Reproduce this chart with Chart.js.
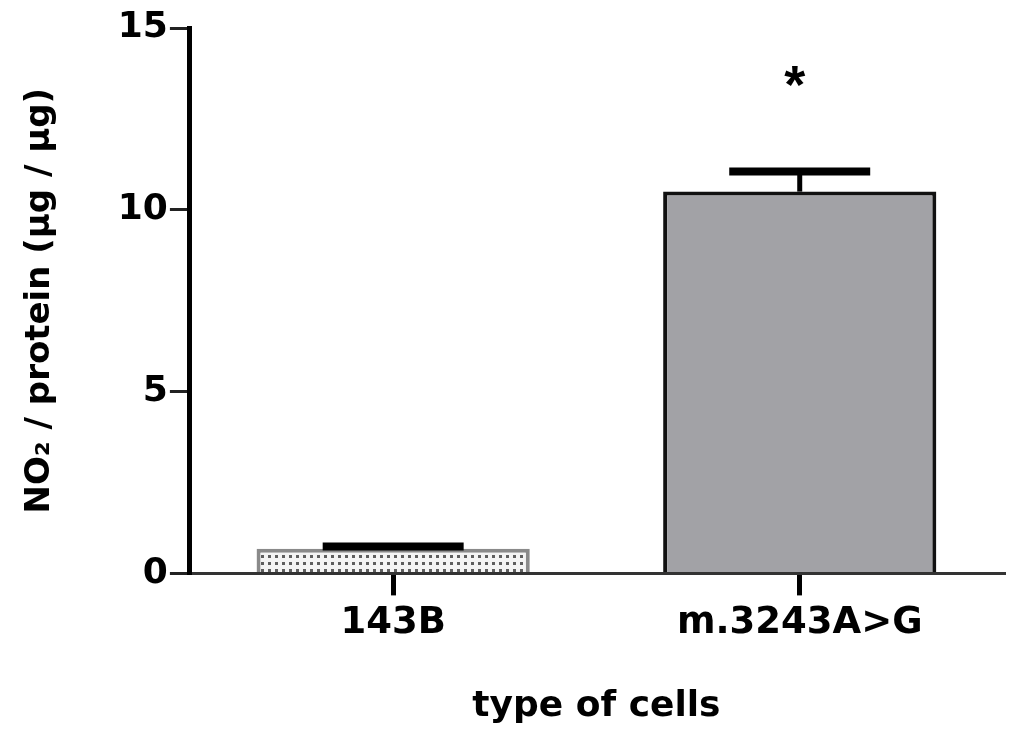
<!DOCTYPE html>
<html>
<head>
<meta charset="utf-8">
<script src="https://cdn.jsdelivr.net/npm/chart.js@4.4.0/dist/chart.umd.min.js"></script>
<style>
  html, body { margin: 0; padding: 0; background: #ffffff; }
  #wrap { width: 1024px; height: 748px; position: relative; }
</style>
</head>
<body>
<div id="wrap"><canvas id="c" width="1024" height="748"></canvas></div>
<script>
const categories = ["143B", "m.3243A>G"];
const values = [0.68, 10.5];
const errors = [0.06, 0.55];
const significance = ["", "*"];
const yTicks = [0, 5, 10, 15];

function dotPattern() {
  const p = document.createElement('canvas');
  p.width = 7; p.height = 7;
  const g = p.getContext('2d');
  g.fillStyle = '#f4f4f4';
  g.fillRect(0, 0, 7, 7);
  g.fillStyle = '#5e5e5e';
  g.fillRect(2, 2, 3, 3);
  return document.getElementById('c').getContext('2d').createPattern(p, 'repeat');
}

const errorBarPlugin = {
  id: 'errorBars',
  afterDatasetsDraw(chart) {
    const ctx = chart.ctx;
    const meta = chart.getDatasetMeta(0);
    const yScale = chart.scales.y;
    meta.data.forEach((bar, i) => {
      const top = yScale.getPixelForValue(values[i] + errors[i]);
      const barTop = bar.y;
      const half = bar.width * 0.258;
      ctx.save();
      ctx.strokeStyle = '#000';
      ctx.lineWidth = 5;
      ctx.beginPath();
      ctx.moveTo(bar.x, barTop);
      ctx.lineTo(bar.x, top);
      ctx.stroke();
      ctx.lineWidth = 8;
      ctx.beginPath();
      ctx.moveTo(bar.x - half, top);
      ctx.lineTo(bar.x + half, top);
      ctx.stroke();
      if (significance[i]) {
        ctx.fillStyle = '#000';
        ctx.font = 'bold 54px "Liberation Sans", Arial, sans-serif';
        ctx.textAlign = 'center';
        ctx.textBaseline = 'middle';
        ctx.fillText(significance[i], bar.x - 5, top - 84);
      }
      ctx.restore();
    });
  }
};

const font = '"DejaVu Sans", "Liberation Sans", Arial, sans-serif';

new Chart(document.getElementById('c'), {
  type: 'bar',
  data: {
    labels: categories,
    datasets: [{
      data: values,
      backgroundColor: [dotPattern(), '#a2a2a6'],
      borderColor: ['#8a8a8a', '#111111'],
      borderWidth: 4,
      borderSkipped: 'bottom',
      barPercentage: 0.672,
      categoryPercentage: 1.0
    }]
  },
  options: {
    responsive: false,
    animation: false,
    layout: { padding: { top: 28, right: 21, bottom: 20, left: 20 } },
    plugins: { legend: { display: false }, tooltip: { enabled: false } },
    scales: {
      x: {
        offset: true,
        grid: { offset: false, drawOnChartArea: false, drawTicks: true, tickLength: 22, color: '#000', lineWidth: 5 },
        border: { display: true, color: '#333333', width: 3 },
        ticks: { color: '#000', font: { family: font, size: 37, weight: 'bold' }, padding: 6 },
        title: { display: true, text: 'type of cells', color: '#000', font: { family: font, size: 36, weight: 'bold' }, padding: { top: 33, bottom: 0 } }
      },
      y: {
        min: 0, max: 15,
        afterBuildTicks(axis) { axis.ticks = yTicks.map(v => ({ value: v })); },
        grid: { drawOnChartArea: false, drawTicks: true, tickLength: 20, color: '#222', lineWidth: 3 },
        border: { display: true, color: '#000', width: 5 },
        ticks: { color: '#000', font: { family: font, size: 36, weight: 'bold' }, padding: 2 },
        title: { display: true, text: 'NO\u2082 / protein (\u00b5g / \u00b5g)', color: '#000', font: { family: font, size: 34, weight: 'bold' }, padding: { top: 0, bottom: 55 } }
      }
    }
  },
  plugins: [errorBarPlugin]
});
</script>
</body>
</html>
